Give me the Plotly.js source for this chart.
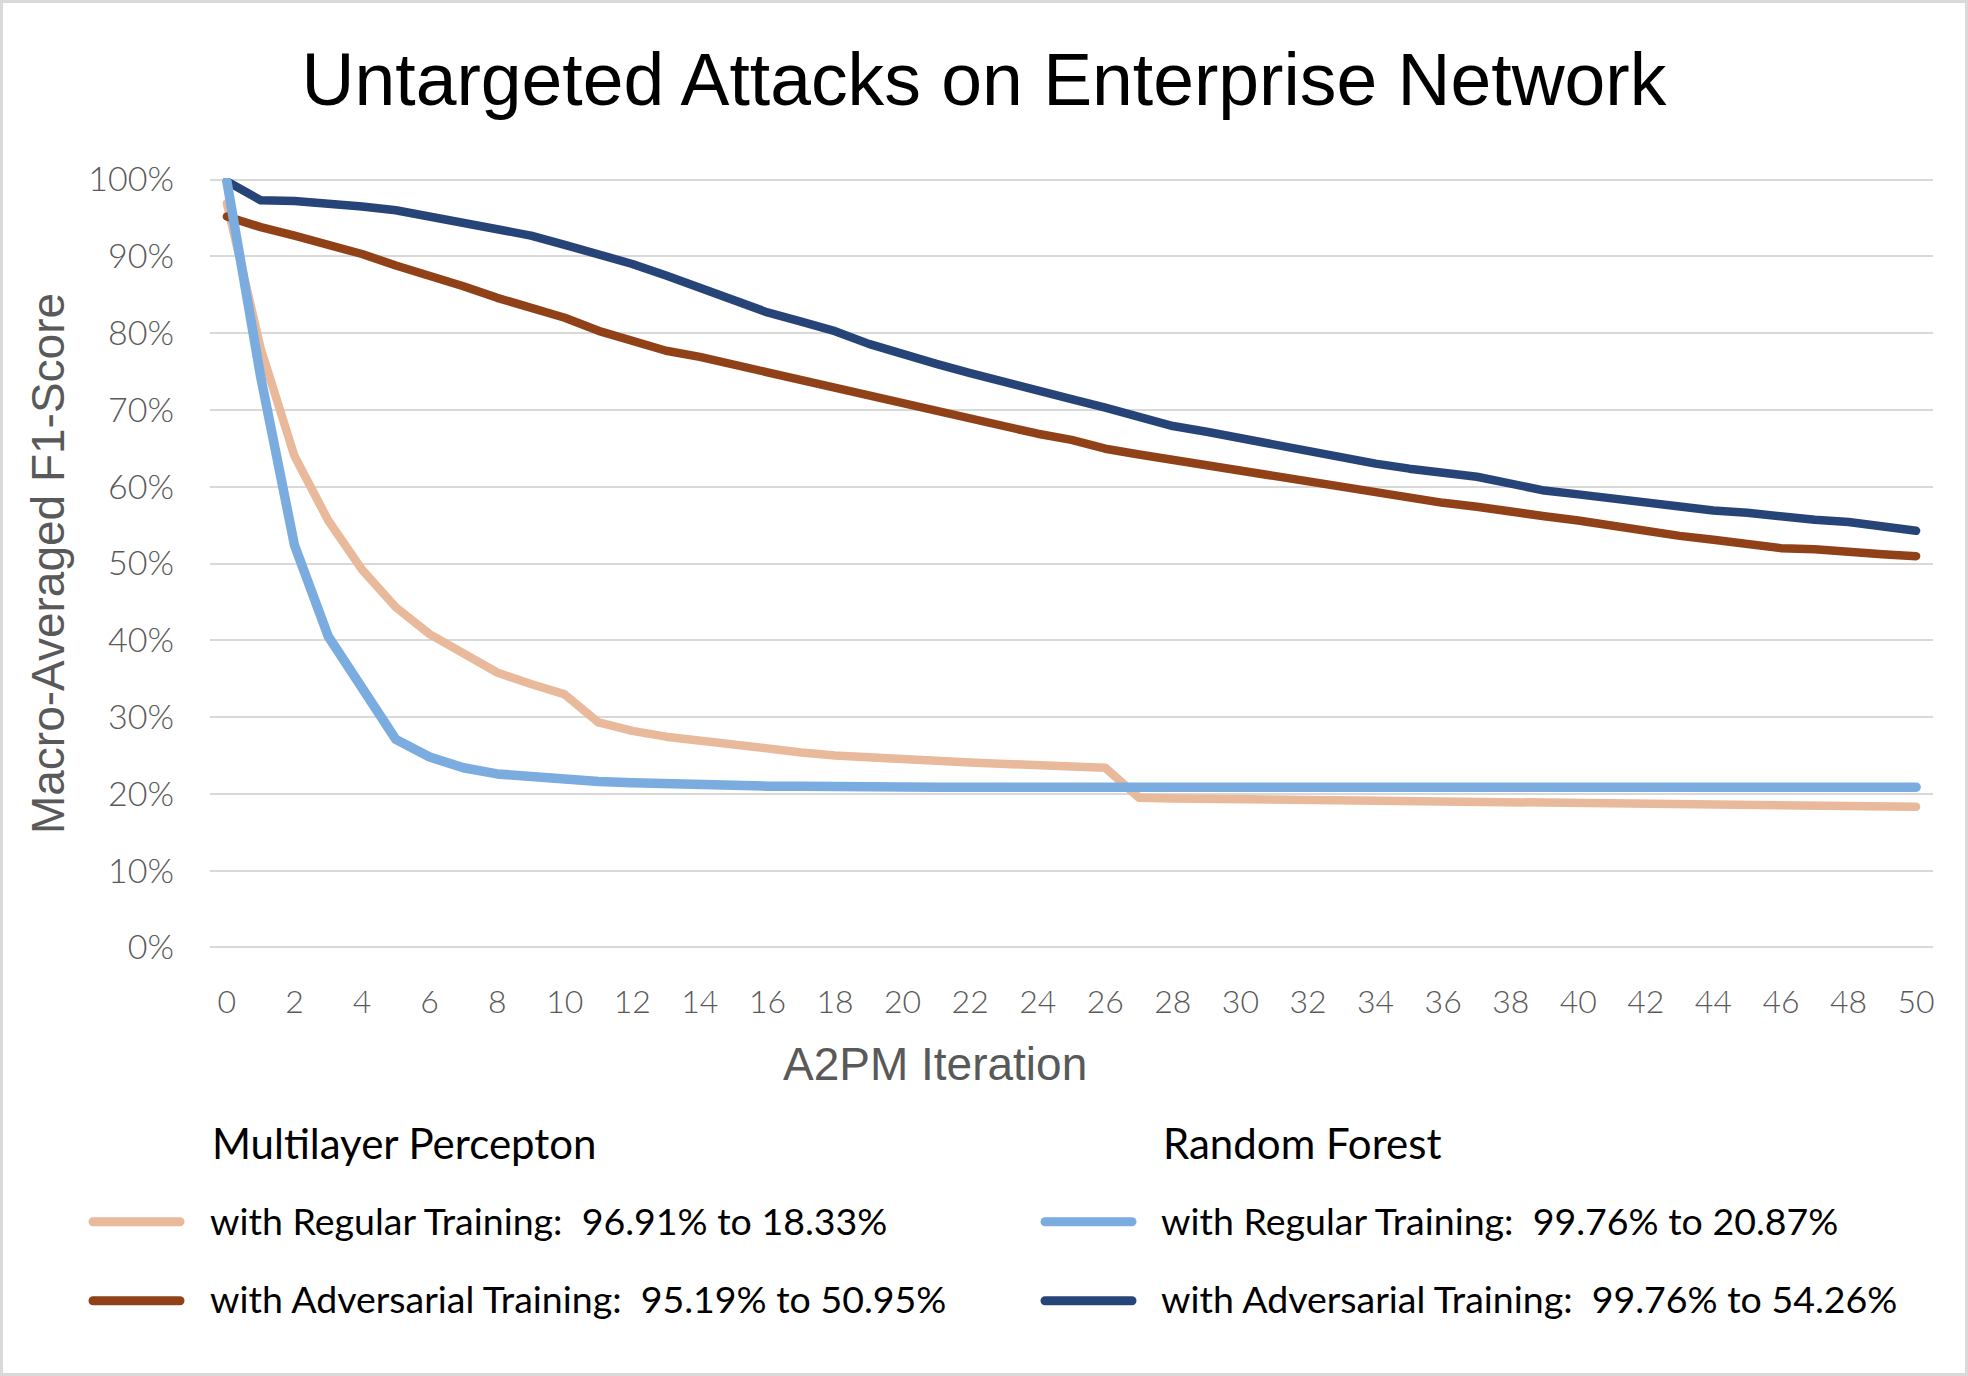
<!DOCTYPE html>
<html>
<head>
<meta charset="utf-8">
<script src="https://cdn.plot.ly/plotly-3.0.1.min.js"></script>
<style>
html, body { margin: 0; padding: 0; background: #ffffff; }
#chart { width: 1968px; height: 1376px; }
#frame { position: absolute; left: 0; top: 0; width: 1968px; height: 1376px; box-sizing: border-box; border: 3px solid #d9d9d9; pointer-events: none; }
.scatterlayer path.js-line { stroke-linejoin: round; stroke-linecap: round; }
.shapelayer path { stroke-linecap: round; }
</style>
</head>
<body>
<div id="chart"></div>
<div id="frame"></div>
<script>
// ---- data (values in %) ----
const iterations = [0,1,2,3,4,5,6,7,8,9,10,11,12,13,14,15,16,17,18,19,20,21,22,23,24,25,26,27,28,29,30,31,32,33,34,35,36,37,38,39,40,41,42,43,44,45,46,47,48,49,50];
const xTickVals = [0,2,4,6,8,10,12,14,16,18,20,22,24,26,28,30,32,34,36,38,40,42,44,46,48,50];
const xTickText = ["0","2","4","6","8","10","12","14","16","18","20","22","24","26","28","30","32","34","36","38","40","42","44","46","48","50"];
const yTickVals = [0,10,20,30,40,50,60,70,80,90,100];
const yTickText = ["0%","10%","20%","30%","40%","50%","60%","70%","80%","90%","100%"];

const mlpRegular = [96.91,78.0,64.0,55.6,49.2,44.3,40.8,38.2,35.8,34.3,32.95,29.3,28.2,27.45,26.9,26.3,25.8,25.4,25.0,24.7,24.5,24.3,24.1,24.0,23.7,23.55,23.4,19.5,19.4,19.35,19.25,19.15,19.1,19.0,18.95,18.9,18.8,18.75,18.7,18.65,18.6,18.55,18.5,18.5,18.45,18.42,18.4,18.38,18.36,18.34,18.33];
const mlpAdversarial = [95.19,93.8,92.7,91.6,90.3,88.8,87.5,86.1,84.6,83.3,82.0,80.3,78.9,77.7,76.9,75.9,74.9,73.75,72.65,71.8,70.85,69.7,68.75,67.8,66.9,66.1,64.95,64.2,63.5,62.7,61.9,61.4,60.7,60.0,59.2,58.5,57.9,57.4,56.7,56.15,55.6,54.85,54.2,53.6,53.1,52.5,52.0,51.85,51.4,51.2,50.95];
const rfRegular = [99.76,74.3,52.4,40.5,33.8,27.1,24.8,23.4,22.6,22.2,21.8,21.6,21.45,21.3,21.1,21.05,21.0,21.0,20.9,20.87,20.87,20.87,20.87,20.87,20.87,20.87,20.87,20.87,20.87,20.87,20.87,20.87,20.87,20.87,20.87,20.87,20.87,20.87,20.87,20.87,20.87,20.87,20.87,20.87,20.87,20.87,20.87,20.87,20.87,20.87,20.87];
const rfAdversarial = [99.76,97.3,97.2,96.9,96.5,96.0,95.2,94.4,93.6,92.7,91.5,90.3,89.0,87.5,85.9,84.3,82.7,81.5,80.25,78.6,77.2,76.0,74.8,73.6,72.35,71.4,70.3,69.0,67.9,67.15,66.3,65.6,64.6,63.95,63.0,62.35,61.8,61.3,60.4,59.5,59.0,58.45,57.9,57.4,56.9,56.6,56.1,55.7,55.4,54.85,54.26];

const groupTitles = ["Multilayer Percepton", "Random Forest"];
const mlpNames = ["with Regular Training:\u00a0 96.91% to 18.33%", "with Adversarial Training:\u00a0 95.19% to 50.95%"];
const rfNames = ["with Regular Training:\u00a0 99.76% to 20.87%", "with Adversarial Training:\u00a0 99.76% to 54.26%"];

const colors = { mlpReg: "#E9B99B", mlpAdv: "#914118", rfReg: "#7AACE0", rfAdv: "#264478" };

// ---- geometry ----
const W = 1968, H = 1376;
const yPad = 0.2;                      // tiny range padding so the 100% grid line is drawn
const pxPerUnit = 7.681;
const L = 210, R = 1933, T = 179.5 - yPad * pxPerUnit, B = 947.6 + yPad * pxPerUnit;
const px = p => (p - L) / (R - L);
const py = p => (B - p) / (B - T);

const traces = [
  { x: iterations, y: mlpRegular, name: mlpNames[0], type: "scatter", mode: "lines", line: { color: colors.mlpReg, width: 8.5 } },
  { x: iterations, y: mlpAdversarial, name: mlpNames[1], type: "scatter", mode: "lines", line: { color: colors.mlpAdv, width: 8.5 } },
  { x: iterations, y: rfAdversarial, name: rfNames[1], type: "scatter", mode: "lines", line: { color: colors.rfAdv, width: 8.5 } },
  { x: iterations, y: rfRegular, name: rfNames[0], type: "scatter", mode: "lines", line: { color: colors.rfReg, width: 9.5 } }
];

const legendFont = { family: "Lato, 'Open Sans', sans-serif", size: 37.5, color: "#000000" };
const groupFont = { family: "Lato, 'Open Sans', sans-serif", size: 42, color: "#000000" };
const rowY = [1221, 1299];
const titleY = 1143;
const annotations = [
  { text: "A2PM Iteration", x: px(935), y: py(1064), xref: "paper", yref: "paper", xanchor: "center", yanchor: "middle", showarrow: false,
    font: { family: "'Liberation Sans', Arial, sans-serif", size: 46, color: "#595959" } },
  { text: groupTitles[0], x: px(210), y: py(titleY), xref: "paper", yref: "paper", xanchor: "left", yanchor: "middle", showarrow: false, font: groupFont },
  { text: groupTitles[1], x: px(1161), y: py(titleY), xref: "paper", yref: "paper", xanchor: "left", yanchor: "middle", showarrow: false, font: groupFont },
  { text: mlpNames[0], x: px(208), y: py(rowY[0]), xref: "paper", yref: "paper", xanchor: "left", yanchor: "middle", showarrow: false, font: legendFont },
  { text: mlpNames[1], x: px(208), y: py(rowY[1]), xref: "paper", yref: "paper", xanchor: "left", yanchor: "middle", showarrow: false, font: legendFont },
  { text: rfNames[0], x: px(1159), y: py(rowY[0]), xref: "paper", yref: "paper", xanchor: "left", yanchor: "middle", showarrow: false, font: legendFont },
  { text: rfNames[1], x: px(1159), y: py(rowY[1]), xref: "paper", yref: "paper", xanchor: "left", yanchor: "middle", showarrow: false, font: legendFont }
];

function swatch(x0, x1, yy, color) {
  return { type: "line", xref: "paper", yref: "paper", x0: px(x0), x1: px(x1), y0: py(yy), y1: py(yy), line: { color: color, width: 9 } };
}
const swatchY = [1222, 1301];
const shapes = [
  swatch(93, 180, swatchY[0], colors.mlpReg),
  swatch(93, 180, swatchY[1], colors.mlpAdv),
  swatch(1045, 1132, swatchY[0], colors.rfReg),
  swatch(1045, 1132, swatchY[1], colors.rfAdv)
];

const xTickFont = { family: "Lato, 'Open Sans', sans-serif", size: 32, color: "#595959", weight: 300 };
const yTickFont = { family: "Lato, 'Open Sans', sans-serif", size: 34, color: "#595959", weight: 300 };

const layout = {
  width: W, height: H,
  margin: { l: L, r: W - R, t: T, b: H - B, pad: 0 },
  paper_bgcolor: "#ffffff", plot_bgcolor: "#ffffff",
  showlegend: false,
  title: { text: "Untargeted Attacks on Enterprise Network", font: { family: "'Liberation Sans', Arial, sans-serif", size: 73.3, color: "#000000" },
           x: 0.5, xref: "container", xanchor: "center", y: 1 - 79 / H, yref: "container", yanchor: "middle" },
  xaxis: { range: [-0.5, 50.5], tickmode: "array", tickvals: xTickVals, ticktext: xTickText, showgrid: false, zeroline: false, showline: false,
           ticks: "", ticklabelstandoff: 31, tickfont: xTickFont, fixedrange: true },
  yaxis: { range: [-yPad, 100 + yPad], tickmode: "array", tickvals: yTickVals, ticktext: yTickText, showgrid: true, gridcolor: "#d9d9d9", gridwidth: 2,
           zeroline: false, showline: false, ticks: "", ticklabelstandoff: 35, tickfont: yTickFont, fixedrange: true,
           title: { text: "Macro-Averaged F1-Score", standoff: 9, font: { family: "'Liberation Sans', Arial, sans-serif", size: 46, color: "#595959" } } },
  annotations: annotations,
  shapes: shapes
};

Plotly.newPlot("chart", traces, layout, { staticPlot: true, displayModeBar: false });
</script>
</body>
</html>
